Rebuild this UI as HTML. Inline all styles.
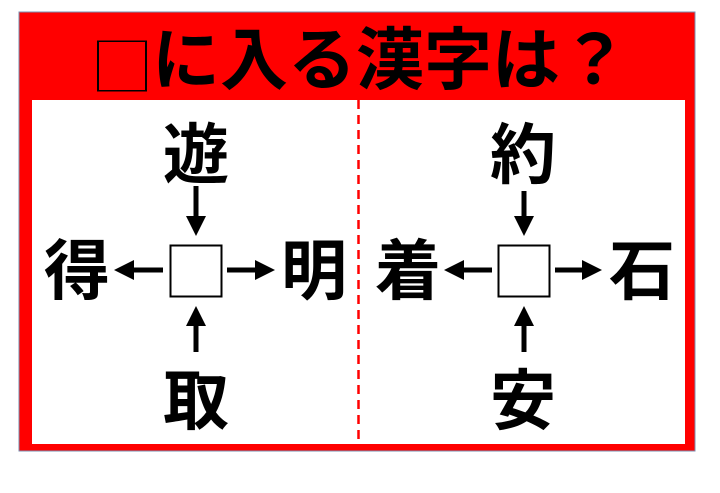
<!DOCTYPE html>
<html><head><meta charset="utf-8"><style>
html,body{margin:0;padding:0;background:#fff;}
svg{display:block;}
text{font-family:"Liberation Sans","Noto Sans CJK JP",sans-serif;font-weight:bold;fill:#000;}
</style></head><body>
<svg width="720" height="493" viewBox="0 0 720 493" xmlns="http://www.w3.org/2000/svg">
<defs><marker id="a" markerWidth="4" markerHeight="4" refX="2" refY="2" orient="auto" markerUnits="strokeWidth"><path d="M0,0 L4,2 L0,4 z" fill="#000"/></marker></defs>
<rect x="19" y="12" width="676" height="439" fill="#f00" stroke="#7a8fb0" stroke-width="1"/>
<rect x="32" y="100" width="653" height="344" fill="#fff"/>
<line x1="358.5" y1="100" x2="358.5" y2="444" stroke="#f00" stroke-width="2.5" stroke-dasharray="9,6"/>
<rect x="98" y="41" width="48" height="66" fill="none" stroke="#000" stroke-width="2" transform="scale(1,0.75) translate(0,14)"/>
<text x="390" y="84" font-size="68" text-anchor="middle">に入る漢字は？</text>
<g font-size="66" text-anchor="middle">
<text x="196" y="178">遊</text>
<text x="77" y="294">得</text>
<text x="314" y="294">明</text>
<text x="196" y="424">取</text>
<text x="523" y="178">約</text>
<text x="408" y="294">着</text>
<text x="642" y="294">石</text>
<text x="523" y="424">安</text>
</g>
<g stroke="#000" stroke-width="5" marker-end="url(#a)">
<line x1="196" y1="186" x2="196" y2="226"/>
<line x1="163" y1="270" x2="124" y2="270"/>
<line x1="227" y1="270" x2="265" y2="270"/>
<line x1="196" y1="352" x2="196" y2="316"/>
<line x1="524" y1="191" x2="524" y2="226"/>
<line x1="492" y1="270" x2="454" y2="270"/>
<line x1="555" y1="270" x2="592" y2="270"/>
<line x1="524" y1="352" x2="524" y2="316"/>
</g>
<rect x="170.5" y="245.5" width="51" height="51" fill="#fff" stroke="#000" stroke-width="2"/>
<rect x="498.5" y="245.5" width="51" height="51" fill="#fff" stroke="#000" stroke-width="2"/>
</svg>
</body></html>
